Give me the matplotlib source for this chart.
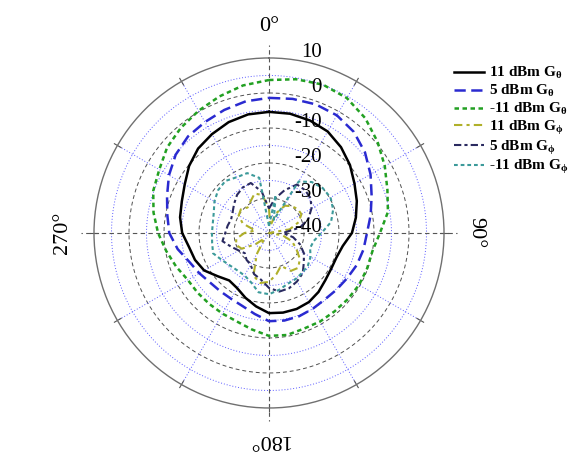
import numpy as np
import matplotlib
matplotlib.use("Agg")
import matplotlib.pyplot as plt
from matplotlib.transforms import offset_copy

plt.rcParams["font.family"] = ["Liberation Serif", "DejaVu Serif"]
plt.rcParams["mathtext.fontset"] = "custom"
plt.rcParams["mathtext.rm"] = "Liberation Serif:bold"
plt.rcParams["mathtext.it"] = "Liberation Serif:bold"
plt.rcParams["mathtext.bf"] = "Liberation Serif:bold"

# co-polar patterns (dB), every 10 deg
angles_co = list(range(0, 360, 10))
g_theta_11 = [-5.4, -5.4, -5.8, -6.5, -8.0, -9.8, -11.8, -13.3, -14.8, -16.3, -18.6, -19.5,
              -19.5, -19.0, -18.0, -17.2, -16.9, -16.9, -17.1, -18.7, -20.3, -21.8, -22.3, -20.8,
              -18.6, -17.5, -16.8, -15.2, -14.2, -13.5, -12.2, -10.2, -8.5, -7.4, -6.3, -5.6]
g_theta_5 = [-1.4, -1.1, -0.9, -1.2, -2.3, -4.2, -6.5, -8.8, -10.5, -12.0, -12.6, -13.3,
             -14.2, -14.8, -15.2, -15.0, -14.7, -14.6, -14.8, -16.5, -17.8, -18.3, -18.3, -18.0,
             -17.0, -15.8, -13.5, -11.5, -10.5, -9.0, -7.0, -5.2, -4.0, -3.4, -2.6, -1.8]
g_theta_m11 = [3.7, 4.6, 5.1, 4.5, 2.8, 0.5, -1.8, -4.0, -5.5, -8.3, -10.0, -10.2,
               -10.3, -10.6, -10.8, -10.8, -10.9, -10.4, -10.6, -12.0, -13.1, -13.4, -13.5, -13.4,
               -13.2, -11.8, -10.2, -8.3, -6.5, -4.8, -3.8, -2.0, -0.8, 0.3, 1.5, 2.8]

# cross-polar patterns (dB), every 10 deg
angles_cx = list(range(0, 360, 10))
g_phi_11 = [-33, -38, -34, -31, -30, -29.3, -29.3, -31, -34, -40, -36, -33,
            -31, -28.5, -27, -27.5, -30, -28, -26, -25.5, -27, -33, -38, -35,
            -31, -30, -30.5, -33, -36, -32, -30, -29.5, -30.5, -29.5, -28, -29]
g_phi_5 = [-33, -30, -27, -24, -24, -24.5, -26, -28, -31, -36, -33, -30.6,
           -28.5, -27, -25, -24, -23.2, -23, -24.3, -26.5, -27.5, -29.5, -30, -31,
           -30, -28.5, -26.5, -27.5, -28, -28.5, -28, -27, -25.8, -25, -24.8, -28]
g_phi_m11 = [-38, -29, -36, -23, -21, -20, -19.7, -20.5, -22, -25, -27, -27.5,
             -26.3, -25.5, -25.2, -24.8, -24.5, -23.5, -22.5, -22.8, -25, -26, -26, -25.5,
             -24.5, -23, -23.5, -23.7, -23.7, -23.2, -22, -21, -20.6, -21.6, -21.8, -24]

labels = ["11 dBm G$_{\\theta}$", "5 dBm G$_{\\theta}$", "-11 dBm G$_{\\theta}$",
          "11 dBm G$_{\\phi}$", "5 dBm G$_{\\phi}$", "-11 dBm G$_{\\phi}$"]

r_min, r_max = -40, 10
major_rings = [0, -10, -20, -30]
minor_rings = [5, -5, -15, -25, -35]
ring_labels = [10, 0, -10, -20, -30, -40]
angle_labels = [0, 90, 180, 270]


def closed(angles, values):
    th = np.deg2rad(list(angles) + [angles[0]])
    return th, list(values) + [values[0]]


fig = plt.figure(figsize=(5.82, 4.69), dpi=100)
ax = fig.add_axes([0.1615, 0.1301, 0.6014, 0.7463], projection="polar")
ax.set_theta_zero_location("N")
ax.set_theta_direction(-1)
ax.set_ylim(r_min, r_max)
ax.grid(False)
ax.set_xticks([])
ax.set_yticks([])
ax.spines["polar"].set_color("#707070")
ax.spines["polar"].set_linewidth(1.0)

# grid
circ = np.linspace(0, 2 * np.pi, 361)
for v in major_rings:
    ax.plot(circ, [v] * len(circ), color="#505050", lw=0.7, dashes=(4, 3), zorder=1)
for v in minor_rings:
    ax.plot(circ, [v] * len(circ), color="#5a5aff", lw=0.7, dashes=(1, 2), zorder=1)
for a in range(30, 360, 30):
    if a % 90:
        ax.plot([np.deg2rad(a)] * 2, [r_min, r_max], color="#5a5aff", lw=0.7,
                dashes=(1, 2), zorder=1)
    ax.plot([np.deg2rad(a)] * 2, [r_max - 1.2, r_max + 1.0], color="#555555", lw=0.8,
            clip_on=False, zorder=1)
for a in angle_labels:
    ax.plot([np.deg2rad(a)] * 2, [r_min, r_max + 3.6], color="#555555", lw=0.8,
            dashes=(4, 3), clip_on=False, zorder=1)

# patterns
styles = [
    dict(color="#000000", lw=1.8, ls="-"),
    dict(color="#2a2ad0", lw=1.8, dashes=(4.5, 2.2)),
    dict(color="#22a022", lw=1.8, dashes=(1.8, 1.4)),
    dict(color="#b0b02a", lw=1.5, dashes=(4, 2, 1.5, 2)),
    dict(color="#2a2a60", lw=1.5, dashes=(3.5, 1.5, 1.5, 1.5)),
    dict(color="#3c9a9a", lw=1.5, dashes=(1.8, 1.4)),
]
series = [(angles_co, g_theta_11), (angles_co, g_theta_5), (angles_co, g_theta_m11),
          (angles_cx, g_phi_11), (angles_cx, g_phi_5), (angles_cx, g_phi_m11)]
for (ang, vals), st, lab in zip(series, styles, labels):
    th, rr = closed(ang, vals)
    ax.plot(th, rr, label=lab, zorder=3, **st)

# radial labels, right aligned next to the 0 deg axis
lab_tr = offset_copy(ax.transData, fig=fig, x=53, y=5, units="dots")
for v in ring_labels:
    ax.text(0, v, str(v), transform=lab_tr, ha="right", va="center", fontsize=15,
            clip_on=False, zorder=4)

# angle labels
for a in angle_labels:
    ax.text(np.deg2rad(a), r_max + 9.1, f"{a}\u00b0", ha="center", va="center",
            rotation=-a, fontsize=16, clip_on=False)

fig.legend(loc="upper left", bbox_to_anchor=(454 / 582, 1 - 65 / 469), frameon=False,
           prop=dict(family="Liberation Serif", weight="bold", size=11),
           handlelength=1.95, handletextpad=0.35, labelspacing=0.12, borderpad=0,
           borderaxespad=0)

fig.savefig("out.png", dpi=100)
